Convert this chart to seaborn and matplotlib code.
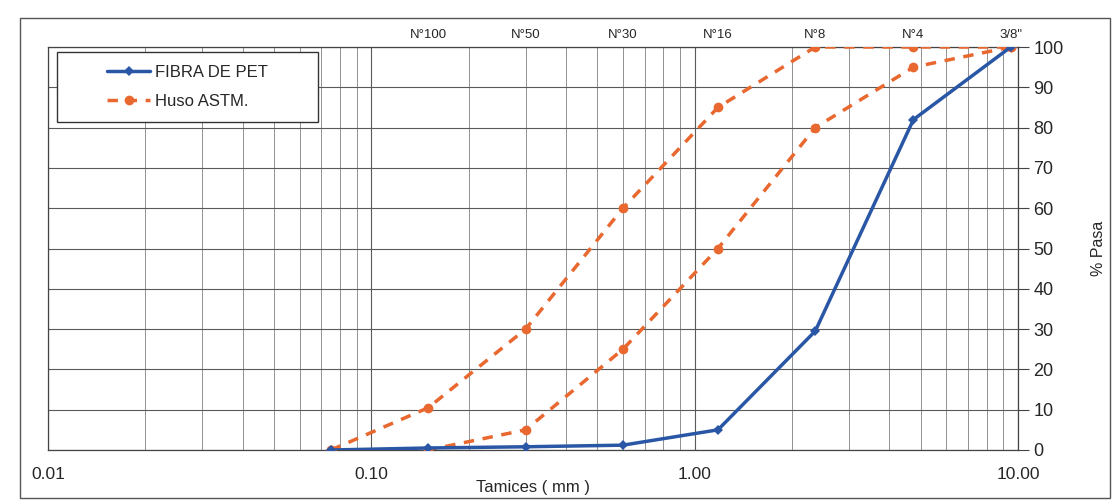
import numpy as np
import pandas as pd
import seaborn as sns
import matplotlib.pyplot as plt
from matplotlib.patches import Rectangle
from matplotlib.ticker import FixedLocator, LogLocator, NullFormatter

# abertura de tamices (mm) y nombres
tamices_mm = [0.075, 0.15, 0.3, 0.6, 1.18, 2.36, 4.75, 9.5]
tamices_nombre = ['N°100', 'N°50', 'N°30', 'N°16', 'N°8', 'N°4', '3/8"']
tamices_nombre_mm = [0.15, 0.3, 0.6, 1.18, 2.36, 4.75, 9.5]

# % que pasa
fibra_pet = [0, 0.5, 0.8, 1.2, 5, 29.5, 82, 100]
huso_sup = [0, 10.5, 30, 60, 85, 100, 100, 100]
huso_inf = [0, 0, 5, 25, 50, 80, 95, 100]

df_pet = pd.DataFrame({'tamiz': tamices_mm, 'pasa': fibra_pet})
df_sup = pd.DataFrame({'tamiz': tamices_mm, 'pasa': huso_sup})
df_inf = pd.DataFrame({'tamiz': tamices_mm, 'pasa': huso_inf})

azul = '#2a57a5'
naranja = '#e8682f'

sns.set_style('white')
plt.rcParams['font.family'] = ['Liberation Sans', 'DejaVu Sans']

fig = plt.figure(figsize=(11.14, 5.04), dpi=100)
# ejes en pixeles: x 48-1018, y 47-450
ax = fig.add_axes([48 / 1114, 1 - 450 / 504, 970 / 1114, 403 / 504])

# curvas del huso
sns.lineplot(data=df_sup, x='tamiz', y='pasa', ax=ax, color=naranja, lw=2.5,
             linestyle=(0, (3, 2.5)), marker='o', markersize=7, markeredgewidth=0,
             label='Huso ASTM.', sort=False, zorder=3)
sns.lineplot(data=df_inf, x='tamiz', y='pasa', ax=ax, color=naranja, lw=2.5,
             linestyle=(0, (3, 2.5)), marker='o', markersize=7, markeredgewidth=0,
             label='_nolegend_', sort=False, zorder=3)
# curva de la fibra
sns.lineplot(data=df_pet, x='tamiz', y='pasa', ax=ax, color=azul, lw=2.5,
             marker='D', markersize=5.5, markeredgewidth=0,
             label='FIBRA DE PET', sort=False, zorder=4)

ax.set_xscale('log')
ax.set_xlim(0.01, 10)
ax.set_ylim(0, 100)

# ejes y grilla
ax.xaxis.set_major_locator(FixedLocator([0.01, 0.1, 1, 10]))
ax.set_xticklabels(['0.01', '0.10', '1.00', '10.00'], fontsize=12.5)
ax.xaxis.set_minor_locator(LogLocator(base=10, subs=np.arange(2, 10)))
ax.xaxis.set_minor_formatter(NullFormatter())
ax.tick_params(axis='x', which='both', length=0, pad=12)

ax.yaxis.tick_right()
ax.yaxis.set_label_position('right')
ax.set_yticks(range(0, 101, 10))
ax.tick_params(axis='y', length=8, width=0.8, color='#444444', labelsize=13, pad=3)

ax.grid(True, which='major', color='#5a5a5a', lw=0.8)
ax.grid(True, which='minor', axis='x', color='#808080', lw=0.6)
for s in ax.spines.values():
    s.set_color('#444444')
    s.set_linewidth(0.9)

ax.set_xlabel('Tamices ( mm )', fontsize=12, labelpad=-1)
ax.set_ylabel('% Pasa', fontsize=11.5, labelpad=20)

# tamices arriba
ax_top = ax.twiny()
ax_top.set_xscale('log')
ax_top.set_xlim(ax.get_xlim())
ax_top.xaxis.set_major_locator(FixedLocator(tamices_nombre_mm))
ax_top.xaxis.set_minor_locator(FixedLocator([]))
ax_top.set_xticklabels(tamices_nombre, fontsize=9.5)
ax_top.tick_params(axis='x', length=0, pad=4)
for s in ax_top.spines.values():
    s.set_visible(False)

# leyenda: caja dibujada aparte, FIBRA primero
h, l = ax.get_legend_handles_labels()
orden = [l.index('FIBRA DE PET'), l.index('Huso ASTM.')]
x0, x1 = (57 - 48) / 970, (318 - 48) / 970
y0, y1 = (450 - 122) / 403, (450 - 52) / 403
ax.add_patch(Rectangle((x0, y0), x1 - x0, y1 - y0, transform=ax.transAxes,
                       facecolor='white', edgecolor='#333333', lw=1.0, zorder=5))
leg = ax.legend([h[i] for i in orden], [l[i] for i in orden], loc='center',
                bbox_to_anchor=((x0 + x1) / 2, (y0 + y1) / 2), fontsize=12,
                frameon=False, handlelength=2.6, labelspacing=0.8,
                handletextpad=0.3)
leg.set_zorder(6)

# marco exterior
fig.patches.append(Rectangle((20 / 1114, 1 - 498 / 504), 1090 / 1114, 480 / 504,
                             transform=fig.transFigure, fill=False,
                             edgecolor='#555555', lw=1.0))

fig.savefig('out.png', dpi=100)
